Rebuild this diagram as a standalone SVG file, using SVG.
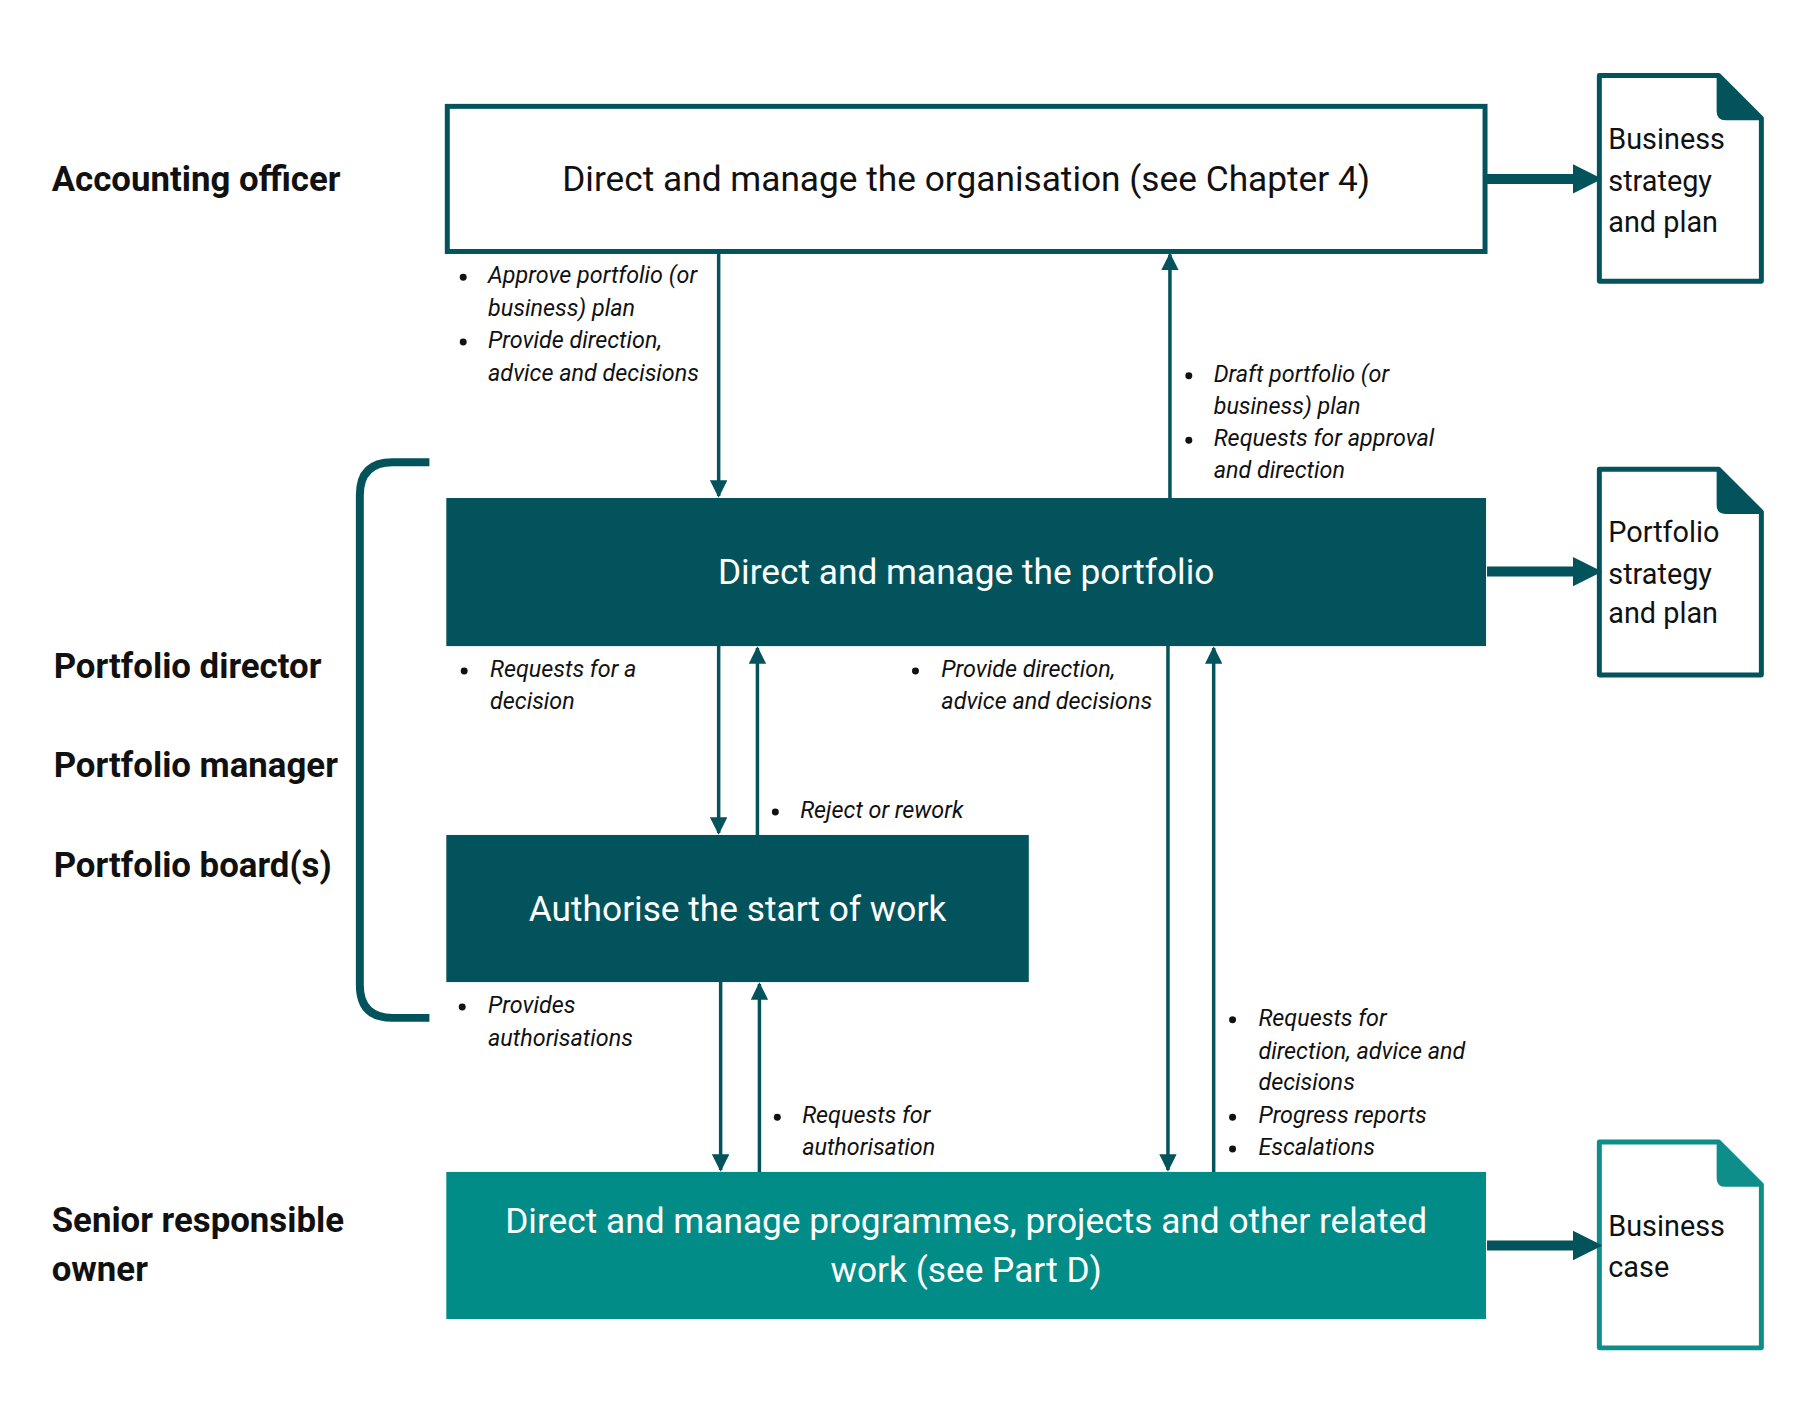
<svg xmlns="http://www.w3.org/2000/svg" width="1810" height="1425" viewBox="0 0 1810 1425">
<defs>
<style>
text{font-family:Roboto,"Liberation Sans",sans-serif;dominant-baseline:central}
.role{font-size:35px;font-weight:700;fill:#111}
.box{font-size:35.5px;text-anchor:middle}
.doc{font-size:29px;fill:#111}
.lbl{font-size:23.5px;font-style:italic;fill:#111}
.thin{stroke:#02535B;stroke-width:3.5;fill:none}
.thick{stroke:#02535B;stroke-width:10;fill:none}
.dot{fill:#111}
</style>
<marker id="ah" viewBox="0 0 10 10" refX="9" refY="5" markerWidth="5" markerHeight="5" orient="auto"><path d="M0,0L10,5L0,10z" fill="#02535B"/></marker>
<marker id="bh" viewBox="0 0 10 10" refX="6" refY="5" markerWidth="3" markerHeight="3.4" orient="auto"><path d="M0,0L10,5L0,10z" fill="#02535B"/></marker>
</defs>
<g transform="scale(0.994)">
<g id="roles">
<text class="role" x="52" y="180">Accounting officer</text>
<text class="role" x="54" y="670">Portfolio director</text>
<text class="role" x="54" y="770">Portfolio manager</text>
<text class="role" x="54" y="870">Portfolio board(s)</text>
<text class="role" x="52" y="1227">Senior responsible</text>
<text class="role" x="52" y="1277">owner</text>
<path d="M432,465H395Q362,465 362,498V991Q362,1024 395,1024H432" stroke="#02535B" stroke-width="8" fill="none"/>
</g>
<g id="n-org"><rect x="450" y="107" width="1044" height="146" fill="#fff" stroke="#02535B" stroke-width="5"/><text class="box" x="972" y="180" fill="#111">Direct and manage the organisation (see Chapter 4)</text></g>
<g id="n-portfolio"><rect x="449" y="501" width="1046" height="149" fill="#02535B"/><text class="box" x="972" y="575" fill="#fff">Direct and manage the portfolio</text></g>
<g id="n-auth"><rect x="449" y="840" width="586" height="148" fill="#02535B"/><text class="box" x="742" y="914" fill="#fff">Authorise the start of work</text></g>
<g id="n-prog"><rect x="449" y="1179" width="1046" height="148" fill="#028C87"/><text class="box" x="972" y="1228" fill="#fff">Direct and manage programmes, projects and other related</text><text class="box" x="972" y="1278" fill="#fff">work (see Part D)</text></g>
<g id="d-business">
<path d="M1609,76H1729L1772,119V283H1609Z" fill="#fff" stroke="#02535B" stroke-width="5" stroke-linejoin="round"/>
<path d="M1729,76V112Q1729,119 1736,119H1772Z" fill="#02535B" stroke="#02535B" stroke-width="4" stroke-linejoin="round"/>
<text class="doc" x="1618" y="140">Business</text><text class="doc" x="1618" y="182">strategy</text><text class="doc" x="1618" y="223">and plan</text></g>
<g id="d-portfolio">
<path d="M1609,472H1729L1772,515V679H1609Z" fill="#fff" stroke="#02535B" stroke-width="5" stroke-linejoin="round"/>
<path d="M1729,472V508Q1729,515 1736,515H1772Z" fill="#02535B" stroke="#02535B" stroke-width="4" stroke-linejoin="round"/>
<text class="doc" x="1618" y="535">Portfolio</text><text class="doc" x="1618" y="577">strategy</text><text class="doc" x="1618" y="617">and plan</text></g>
<g id="d-case">
<path d="M1609,1149H1729L1772,1192V1356H1609Z" fill="#fff" stroke="#0E8E8A" stroke-width="5" stroke-linejoin="round"/>
<path d="M1729,1149V1185Q1729,1192 1736,1192H1772Z" fill="#0E8E8A" stroke="#0E8E8A" stroke-width="4" stroke-linejoin="round"/>
<text class="doc" x="1618" y="1233">Business</text><text class="doc" x="1618" y="1275">case</text></g>
<g id="connectors">
<path class="thick" d="M1496,180H1600" marker-end="url(#bh)"/>
<path class="thick" d="M1496,575H1600" marker-end="url(#bh)"/>
<path class="thick" d="M1496,1253H1600" marker-end="url(#bh)"/>
<path class="thin" d="M723,253V499" marker-end="url(#ah)"/>
<path class="thin" d="M1177,501V256" marker-end="url(#ah)"/>
<path class="thin" d="M723,650V838" marker-end="url(#ah)"/>
<path class="thin" d="M762,840V652" marker-end="url(#ah)"/>
<path class="thin" d="M1175,650V1177" marker-end="url(#ah)"/>
<path class="thin" d="M1221,1179V652" marker-end="url(#ah)"/>
<path class="thin" d="M725,988V1177" marker-end="url(#ah)"/>
<path class="thin" d="M764,1179V990" marker-end="url(#ah)"/>
</g>
<g id="labels">
<circle class="dot" cx="466" cy="279" r="3.5"/><text class="lbl" x="491" y="277">Approve portfolio (or</text><text class="lbl" x="491" y="310">business) plan</text>
<circle class="dot" cx="466" cy="344" r="3.5"/><text class="lbl" x="491" y="342">Provide direction,</text><text class="lbl" x="491" y="375">advice and decisions</text>
<circle class="dot" cx="1196" cy="378" r="3.5"/><text class="lbl" x="1221" y="376">Draft portfolio (or</text><text class="lbl" x="1221" y="408">business) plan</text>
<circle class="dot" cx="1196" cy="443" r="3.5"/><text class="lbl" x="1221" y="441">Requests for approval</text><text class="lbl" x="1221" y="473">and direction</text>
<circle class="dot" cx="467" cy="675" r="3.5"/><text class="lbl" x="493" y="673">Requests for a</text><text class="lbl" x="493" y="705">decision</text>
<circle class="dot" cx="921" cy="675" r="3.5"/><text class="lbl" x="947" y="673">Provide direction,</text><text class="lbl" x="947" y="705">advice and decisions</text>
<circle class="dot" cx="780" cy="817" r="3.5"/><text class="lbl" x="805" y="815">Reject or rework</text>
<circle class="dot" cx="465" cy="1013" r="3.5"/><text class="lbl" x="491" y="1011">Provides</text><text class="lbl" x="491" y="1044">authorisations</text>
<circle class="dot" cx="782" cy="1124" r="3.5"/><text class="lbl" x="807" y="1122">Requests for</text><text class="lbl" x="807" y="1154">authorisation</text>
<circle class="dot" cx="1240" cy="1026" r="3.5"/><text class="lbl" x="1266" y="1024">Requests for</text><text class="lbl" x="1266" y="1057">direction, advice and</text><text class="lbl" x="1266" y="1089">decisions</text>
<circle class="dot" cx="1240" cy="1124" r="3.5"/><text class="lbl" x="1266" y="1122">Progress reports</text>
<circle class="dot" cx="1240" cy="1156" r="3.5"/><text class="lbl" x="1266" y="1154">Escalations</text>
</g>
</g>
</svg>
